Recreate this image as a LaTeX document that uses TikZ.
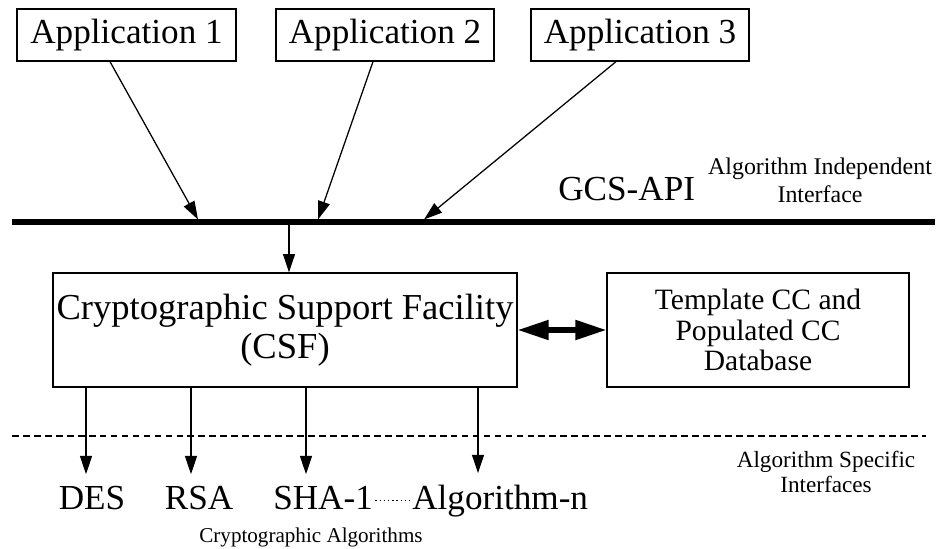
\documentclass[tikz,border=0pt]{standalone}
\usepackage{fontspec}
\setmainfont{Liberation Serif}
\usetikzlibrary{arrows.meta}

\begin{document}
\begin{tikzpicture}[x=0.025cm, y=-0.025cm,
    bigtxt/.style={font=\fontsize{25}{27}\selectfont},
    box/.style={draw, line width=0.9pt, inner sep=0pt, bigtxt, align=center},
    lbl/.style={bigtxt, inner xsep=0pt, inner ysep=0.28cm},
    arr/.style={line width=0.9pt, -{Triangle[length=13pt, width=8.5pt]}}]
    \useasboundingbox (0,0) rectangle (946,548);
    % applications
    \node[box, minimum width=5.47cm, minimum height=1.3cm] (app1) at (126.5,35) {Application 1};
    \node[box, minimum width=5.45cm, minimum height=1.3cm] (app2) at (385,35) {Application 2};
    \node[box, minimum width=5.45cm, minimum height=1.3cm] (app3) at (640,35) {Application 3};
    % the GCS-API bar
    \coordinate (barL) at (12,222);
    \coordinate (barR) at (935,222);
    \draw[line width=3.6pt] (barL) -- (barR);
    \coordinate (in1) at (198,219.5);
    \coordinate (in2) at (318,219.5);
    \coordinate (in3) at (424,219.5);
    \draw[arr] (app1.south -| 110,0) -- (in1);
    \draw[arr] (app2.south -| 373,0) -- (in2);
    \draw[arr] (app3.south -| 616,0) -- (in3);
    \node[bigtxt, anchor=base west, inner sep=0pt] (gcs) at (558,200) {GCS-API};
    \node[font=\fontsize{17}{20}\selectfont, align=center] (indep) at (820,180) {Algorithm Independent\\Interface};
    % CSF and database
    \node[box, font=\fontsize{26}{27.5}\selectfont, minimum width=11.6cm, minimum height=2.85cm] (csf) at (285,330) {Cryptographic Support Facility\\(CSF)};
    \node[box, font=\fontsize{21}{21.5}\selectfont, minimum width=7.55cm, minimum height=2.85cm] (db) at (758,330) {Template CC and\\Populated CC\\Database};
    \coordinate (out) at (289,224.5);
    \draw[arr] (out) -- (out |- csf.north);
    \draw[line width=3.6pt, {Triangle[length=22pt,width=13.5pt]}-{Triangle[length=22pt,width=13.5pt]}] (csf.east) -- (db.west);
    % algorithm specific side
    \coordinate (sepL) at (12,436);
    \coordinate (sepR) at (926,436);
    \draw[line width=1.4pt, dash pattern=on 4.8pt off 3pt] (sepL) -- (sepR);
    \node[lbl, anchor=base] (des) at (92,509) {DES};
    \node[lbl, anchor=base] (rsa) at (199,509) {RSA};
    \node[lbl, anchor=base west] (sha) at (273,509) {SHA-1};
    \node[lbl, anchor=base west] (algn) at (412,509) {Algorithm-n};
    \draw[line width=1pt, dash pattern=on 1pt off 2pt, shorten <=1.5pt, shorten >=1.5pt] ([yshift=0.22cm]sha.base east) -- ([yshift=0.22cm]algn.base west);
    \foreach \n/\x in {des/86, rsa/191, sha/306, algn/478}
        \draw[arr] (csf.south -| \x,0) -- (\x,0 |- \n.north);
    \node[font=\fontsize{15}{18}\selectfont, anchor=base] (cryalg) at (311,542) {Cryptographic Algorithms};
    \node[font=\fontsize{16.5}{18}\selectfont, align=center] (spec) at (826,472) {Algorithm Specific\\Interfaces};
\end{tikzpicture}
\end{document}
